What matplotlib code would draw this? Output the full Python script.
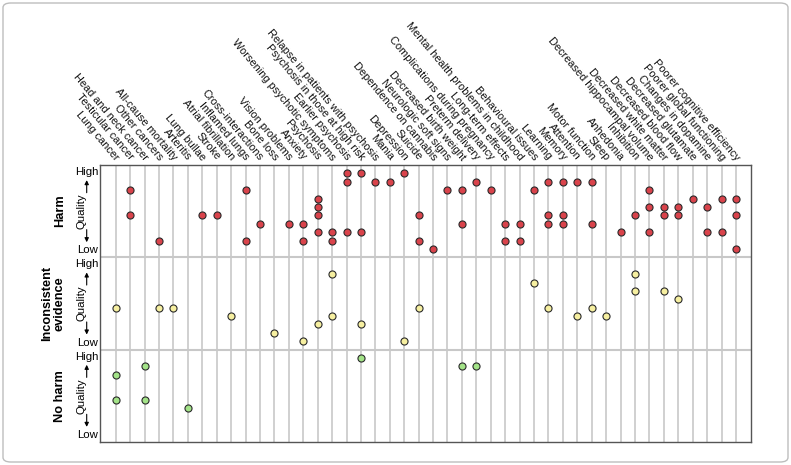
import matplotlib
matplotlib.use("Agg")
import matplotlib.pyplot as plt
import matplotlib.transforms as mtransforms
from matplotlib.patches import FancyBboxPatch

plt.rcParams['font.family'] = ['Liberation Sans', 'DejaVu Sans']

categories = [
    "Lung cancer", "Testicular cancer", "Head and neck cancer", "Other cancers",
    "All-cause mortality", "Arteritis", "Lung bullae", "Stroke",
    "Atrial fibrillation", "Inflamed lungs", "Cross-interactions", "Bone loss",
    "Vision problems", "Anxiety", "Psychosis", "Worsening psychotic symptoms",
    "Earlier psychosis", "Psychosis in those at high risk",
    "Relapse in patients with psychosis", "Mania", "Depression", "Suicide",
    "Dependence on cannabis", "Neurologic soft signs", "Decreased birth weight",
    "Preterm delivery", "Complications during pregnancy", "Long-term effects",
    "Mental health problems in childhood", "Behavioural issues", "Learning",
    "Memory", "Attention", "Motor function", "Sleep", "Anhedonia", "Inhibition",
    "Decreased hippocampal volume", "Decreased white matter",
    "Decreased blood flow", "Decreased glutamate", "Changes in dopamine",
    "Poorer global functioning", "Poorer cognitive efficiency",
]

# Quality level of each piece of evidence (1 = low ... 10 = high), per category
harm_quality = [
    [], [8, 5], [], [2], [], [], [5], [5], [], [8, 2], [4], [], [4], [4, 2],
    [7, 6, 5, 3], [3, 2], [10, 9, 3], [10, 3], [9], [9], [10], [5, 2], [1],
    [8], [8, 4], [9], [8], [4, 2], [4, 2], [8], [9, 5, 4], [9, 5, 4], [9],
    [9, 4], [], [3], [5], [8, 6, 3], [6, 5], [6, 5], [7], [6, 3], [7, 3],
    [7, 5, 1],
]
inconsistent_quality = [
    [5], [], [], [5], [5], [], [], [], [4], [], [], [2], [], [1], [3], [9, 4],
    [], [3], [], [], [1], [5], [], [], [], [], [], [], [], [8], [5], [], [4],
    [5], [4], [], [9, 7], [], [7], [6], [], [], [], [],
]
noharm_quality = [
    [8, 5], [], [9, 5], [], [], [4], [], [], [], [], [], [], [], [], [], [],
    [], [10], [], [], [], [], [], [], [9], [9], [], [], [], [], [], [], [],
    [], [], [], [], [], [], [], [], [], [], [],
]

section_names = ["Harm", "Inconsistent\nevidence", "No harm"]
section_colors = ["#d9434b", "#f6efa0", "#a3e388"]
section_data = [harm_quality, inconsistent_quality, noharm_quality]

W, H = 791, 465
fig = plt.figure(figsize=(W / 100, H / 100), dpi=100)

# light outer frame of the figure
fig.patches.append(FancyBboxPatch((3 / W, 3 / H), 1 - 6 / W, 1 - 6 / H,
                                  boxstyle="round,pad=0,rounding_size=0.01",
                                  transform=fig.transFigure, fill=False,
                                  edgecolor="#bdbdbd", linewidth=1.0))

left, right, top, bottom = 100, 751, 165, 442
ax = fig.add_axes([left / W, 1 - bottom / H, (right - left) / W, (bottom - top) / H])

n = len(categories)
SEC = 11  # units per section
ax.set_xlim(-1.09, n - 1 + 1.04)
ax.set_ylim(0, 3 * SEC)

grid_color = "#c8c8c8"
for i in range(n):
    ax.axvline(i, color=grid_color, lw=1.2, zorder=1)
for yb in (SEC, 2 * SEC):
    ax.axhline(yb, color=grid_color, lw=1.5, zorder=1)

for s, (data, color) in enumerate(zip(section_data, section_colors)):
    base = (2 - s) * SEC
    xs, ys = [], []
    for i, qs in enumerate(data):
        for q in qs:
            xs.append(i)
            ys.append(base + q)
    ax.scatter(xs, ys, s=26, facecolor=color, edgecolor="#2a2a2a",
               linewidths=0.8, zorder=3, clip_on=False)

ax.set_xticks([])
ax.set_yticks([])
for sp in ax.spines.values():
    sp.set_color("#555555")
    sp.set_linewidth(1.0)

# Category labels
for i, name in enumerate(categories):
    trans = mtransforms.offset_copy(ax.transData, fig=fig, x=1.5, y=6, units="dots")
    ax.text(i, 3 * SEC, name, transform=trans, rotation=-50,
            rotation_mode="anchor", ha="right", va="center", fontsize=7.9,
            color="#111111", clip_on=False)

# Section labels
yt = ax.get_yaxis_transform()
def axfx(px):
    return (px - left) / (right - left)

for s, name in enumerate(section_names):
    base = (2 - s) * SEC
    mid = base + SEC / 2
    xlab = 53 if "\n" in name else 60
    ax.text(axfx(xlab), mid, name, transform=yt, rotation=90, ha="center",
            va="center", fontsize=9.2, fontweight="bold", linespacing=1.05,
            clip_on=False)
    ax.text(axfx(98.5), base + SEC - 0.85, "High", transform=yt, ha="right",
            va="center", fontsize=8.2, clip_on=False)
    ax.text(axfx(98.5), base + 0.85, "Low", transform=yt, ha="right",
            va="center", fontsize=8.2, clip_on=False)
    ax.text(axfx(82.0), mid, "Quality", transform=yt, rotation=90,
            ha="center", va="center", fontsize=8.2, clip_on=False)
    for sign in (1, -1):
        ax.annotate("", xy=(axfx(86.7), mid + sign * 3.7),
                    xytext=(axfx(86.7), mid + sign * 2.2),
                    xycoords=yt, textcoords=yt,
                    arrowprops=dict(arrowstyle="-|>", color="black", lw=0.8,
                                    mutation_scale=6, shrinkA=0, shrinkB=0),
                    annotation_clip=False)

fig.savefig("out.png", dpi=100)
